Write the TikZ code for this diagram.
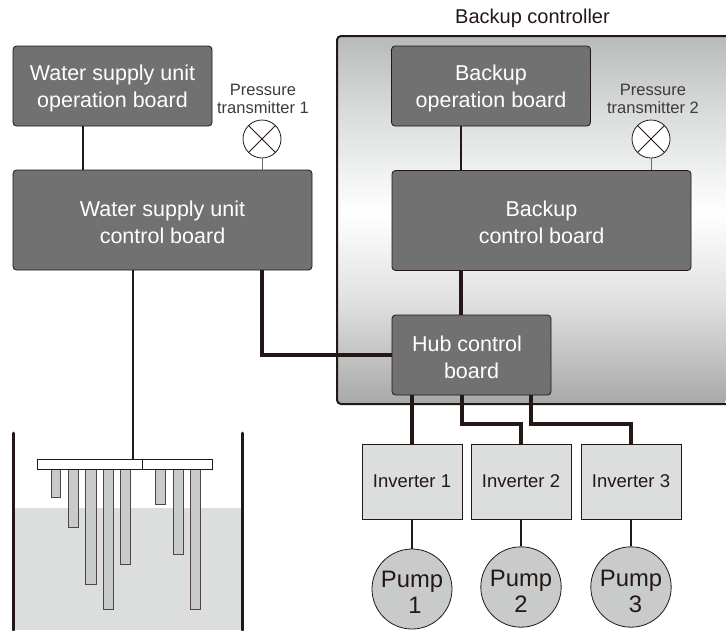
\documentclass[tikz,border=0pt]{standalone}
\usepackage{fontspec}
\setmainfont{Liberation Sans}
\definecolor{ink}{HTML}{231815}
\definecolor{board}{HTML}{717171}
\definecolor{lightbox}{HTML}{DCDDDD}
\definecolor{rod}{HTML}{C9CACA}
\definecolor{labelgrey}{HTML}{3E3A39}
\newcommand{\bdrop}{\rule{0pt}{20pt}}
\newcommand{\pdrop}{\rule{0pt}{25pt}}
\pgfdeclareverticalshading{backupshade}{100bp}{
  rgb(0bp)=(0.66,0.66,0.66);
  rgb(25bp)=(0.66,0.66,0.66);
  rgb(39bp)=(0.88,0.88,0.88);
  rgb(51bp)=(1,1,1);
  rgb(64bp)=(0.86,0.87,0.87);
  rgb(75bp)=(0.72,0.73,0.73);
  rgb(100bp)=(0.72,0.73,0.73)}
\tikzset{
  x=1pt,y=-1pt,
  boardbox/.style={draw=ink,line width=0.8pt,fill=board,rounded corners=3.5pt,inner sep=0pt,
    text=white,align=center,font=\fontsize{21.5}{27}\selectfont},
  inverterbox/.style={draw=ink,line width=0.8pt,fill=lightbox,inner sep=0pt,
    minimum width=100pt,minimum height=75pt,text=ink,font=\fontsize{18.5}{22}\selectfont},
  pumpnode/.style={circle,draw=ink,line width=0.8pt,fill=rod,inner sep=0pt,align=center,
    text=ink,font=\fontsize{23.8}{26}\selectfont},
  gauge/.style={circle,draw=ink,line width=0.8pt,fill=white,minimum size=38pt,inner sep=0pt,
    path picture={\draw[ink,line width=0.8pt]
      (path picture bounding box.north west)--(path picture bounding box.south east)
      (path picture bounding box.north east)--(path picture bounding box.south west);}},
  smalllabel/.style={align=center,text=labelgrey,inner sep=0pt,font=\fontsize{16.5}{18}\selectfont},
  thinlink/.style={draw=ink,line width=1.6pt},
  greylink/.style={draw=ink!65,line width=1pt},
  thicklink/.style={draw=ink,line width=3.5pt,line join=miter},
  rodbar/.style={draw=ink!80,line width=0.9pt,fill=rod},
  wall/.style={draw=ink,line width=3pt,line cap=round}
}
\begin{document}
\begin{tikzpicture}
\useasboundingbox (0,0) rectangle (726,630);
% backup controller enclosure
\shade[shading=backupshade,rounded corners=4pt] (337,36) -- (337,404) -- (726,404) [sharp corners] -- (726,36) [rounded corners=4pt] -- cycle;
\draw[ink,line width=2pt,rounded corners=4pt] (726,36) -- (337,36) -- (337,404) -- (726,404);
\node[inner sep=0pt,text=ink,font=\fontsize{20}{22}\selectfont] (title) at (532.5,18) {Backup controller};
% tank
\fill[lightbox] (13,508) rectangle (242,630);
\coordinate (wl1) at (13,433); \coordinate (wl2) at (13,630);
\coordinate (wr1) at (242,433); \coordinate (wr2) at (242,630);
\draw[wall] (wl1) -- (wl2);
\draw[wall] (wr1) -- (wr2);
\foreach \xa/\xb/\yb in {51/60.5/497,68/78/527,85/96/584,103/113/609,120/130.5/564,155/165.5/504,173/183/554,190/200.5/609}
  \draw[rodbar] (\xa,465) rectangle (\xb,\yb);
\node[draw=ink,line width=0.9pt,fill=white,minimum width=105pt,minimum height=10pt,inner sep=0pt] (plateA) at (90.3,464) {};
\node[draw=ink,line width=0.9pt,fill=white,minimum width=70pt,minimum height=10pt,inner sep=0pt] (plateB) at (177.5,464) {};
% boards
\node[boardbox,minimum width=199pt,minimum height=80pt] (wop) at (112.5,86) {\bdrop Water supply unit\\operation board};
\node[boardbox,minimum width=299pt,minimum height=100pt] (wct) at (162.5,220) {\bdrop Water supply unit\\control board};
\node[boardbox,minimum width=199pt,minimum height=80pt] (bop) at (491,86) {\bdrop Backup\\operation board};
\node[boardbox,minimum width=299pt,minimum height=100pt] (bct) at (541.5,220.5) {\bdrop Backup\\control board};
\node[boardbox,minimum width=159pt,minimum height=80pt] (hub) at (471.5,355) {\bdrop Hub control\hspace{9pt}\mbox{}\\board};
% gauges
\node[gauge] (pt1) at (262,139) {};
\node[gauge] (pt2) at (651,139) {};
\node[smalllabel] (lab1) at (263,99) {Pressure\\transmitter 1};
\node[smalllabel] (lab2) at (653,99) {Pressure\\transmitter 2};
% inverters and pumps
\node[inverterbox] (inv1) at (412,481.5) {Inverter 1};
\node[inverterbox] (inv2) at (521,481.5) {Inverter 2};
\node[inverterbox] (inv3) at (631,481.5) {Inverter 3};
\node[pumpnode,minimum size=80pt] (p1) at (412,589) {\rule{0pt}{22pt}Pump\\\hspace{6pt}1};
\node[pumpnode,minimum size=75pt] (p2) at (521,587) {\pdrop Pump\\2};
\node[pumpnode,minimum size=75pt] (p3) at (631,587) {\pdrop Pump\\\hspace{9pt}3};
% connector helpers
\coordinate (xa) at (83,0);
\coordinate (xb) at (461,0);
\coordinate (xc) at (133,0);
\coordinate (xd) at (462,0);
\coordinate (xe) at (531,0);
\coordinate (ya) at (0,424);
% thin links
\draw[thinlink] (wop.south -| xa) -- (wct.north -| xa);
\draw[thinlink] (bop.south -| xb) -- (bct.north -| xb);
\draw[thinlink] (wct.south -| xc) -- (plateA.north -| xc);
\draw[greylink] (pt1.south) -- (wct.north -| pt1);
\draw[greylink] (pt2.south) -- (bct.north -| pt2);
\draw[thinlink] (inv1.south) -- (p1.north);
\draw[thinlink] (inv2.south) -- (p2.north);
\draw[thinlink] (inv3.south) -- (p3.north);
% thick links
\draw[thicklink] (bct.south -| xb) -- (hub.north -| xb);
\draw[thicklink] (wct.south -| pt1) |- (hub.west);
\draw[thicklink] (hub.south -| inv1) -- (inv1.north);
\draw[thicklink] (hub.south -| xd) -- (xd |- ya) -| (inv2.north);
\draw[thicklink] (hub.south -| xe) -- (xe |- ya) -| (inv3.north);
\end{tikzpicture}
\end{document}
